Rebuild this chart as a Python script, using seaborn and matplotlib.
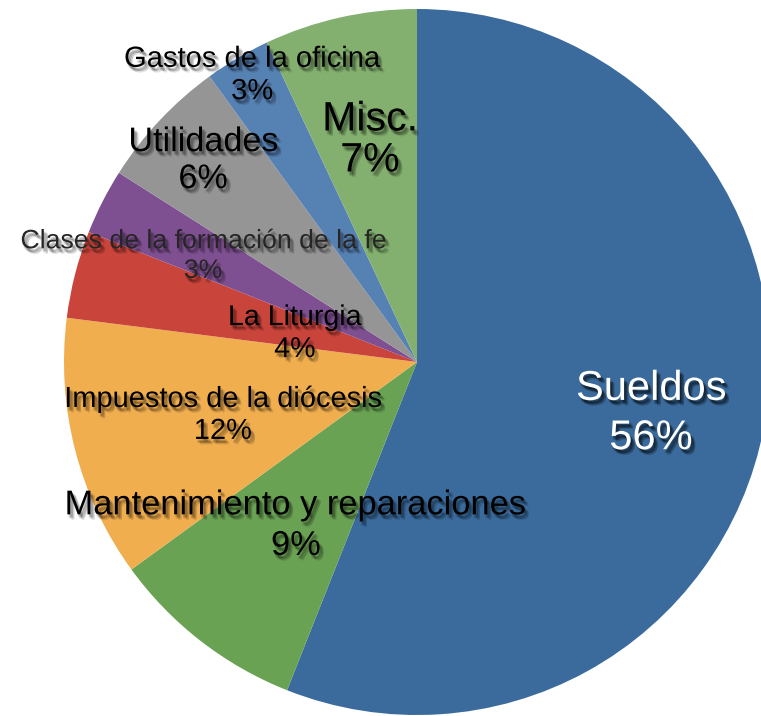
import matplotlib
matplotlib.use("Agg")
import matplotlib.pyplot as plt
import matplotlib.patheffects as pe
import seaborn as sns

# datos del presupuesto (porcentajes)
categorias = ["Sueldos", "Mantenimiento y reparaciones", "Impuestos de la diócesis",
              "La Liturgia", "Clases de la formación de la fe", "Utilidades",
              "Gastos de la oficina", "Misc."]
porcentajes = [56, 9, 12, 4, 3, 6, 3, 7]

colores = ["#3a6b9c", "#6aa254", "#f0ae4f", "#c9443b", "#7e4f91",
           "#959595", "#5681b3", "#83b06f"]

# posicion de cada etiqueta (unidades del radio) y tamano de letra
pos_etiquetas = [(0.663, -0.146), (-0.343, -0.465), (-0.550, -0.150), (-0.346, 0.082),
                 (-0.606, 0.300), (-0.606, 0.569), (-0.467, 0.813), (-0.133, 0.629)]
tam_letra = [30, 24.8, 20.9, 20.6, 19.2, 24.6, 21, 29.6]
color_texto = ["white", "black", "black", "black", "#262626", "black", "black", "black"]
interlineado = [1.3, 1.4, 1.18, 1.18, 1.18, 1.25, 1.2, 1.1]

sns.set_theme(style="white")
plt.rcParams['font.family'] = ['Liberation Sans', 'DejaVu Sans']

fig = plt.figure(figsize=(7.61, 7.16), dpi=100)
ax = fig.add_axes([0, 0, 1, 1])
paleta = sns.color_palette(colores)
ax.pie(porcentajes, colors=paleta, startangle=90, counterclock=False,
       radius=1, center=(0, 0), wedgeprops=dict(linewidth=0))

ax.set_xlim(-417 / 353, (761 - 417) / 353)
ax.set_ylim(-(716 - 362) / 353, 362 / 353)
ax.set_aspect("equal")
ax.axis("off")

def sombra(blanco):
    a0 = 0.16 if blanco else 0.1
    efectos = []
    for dx, dy in [(1, -2), (2, -2), (2, -3), (3, -3), (3, -4), (1, -3)]:
        efectos.append(pe.SimplePatchShadow(offset=(dx, dy), shadow_rgbFace="black", alpha=a0))
    efectos.append(pe.Normal())
    return efectos

for nombre, p, (x, y), fs, ct, ls in zip(categorias, porcentajes, pos_etiquetas,
                                          tam_letra, color_texto, interlineado):
    ax.text(x, y, f"{nombre}\n{p}%", ha="center", va="center", multialignment="center",
            fontsize=fs, color=ct, linespacing=ls,
            path_effects=sombra(ct == "white"))

fig.savefig("out.png", dpi=100)
